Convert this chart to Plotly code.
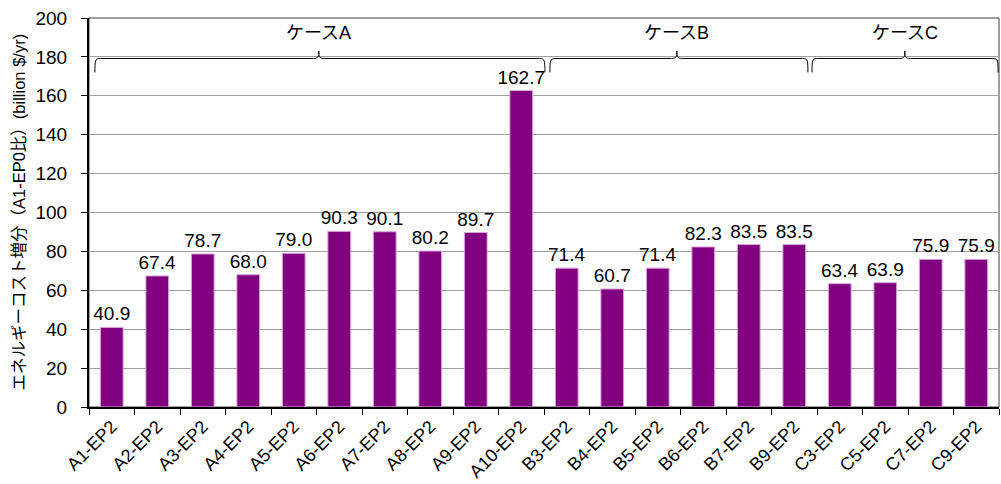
import plotly.graph_objects as go

# Scenario cases and their incremental energy cost vs A1-EP0
categories = ["A1-EP2", "A2-EP2", "A3-EP2", "A4-EP2", "A5-EP2", "A6-EP2", "A7-EP2",
              "A8-EP2", "A9-EP2", "A10-EP2", "B3-EP2", "B4-EP2", "B5-EP2", "B6-EP2",
              "B7-EP2", "B9-EP2", "C3-EP2", "C5-EP2", "C7-EP2", "C9-EP2"]
values = [40.9, 67.4, 78.7, 68.0, 79.0, 90.3, 90.1, 80.2, 89.7, 162.7,
          71.4, 60.7, 71.4, 82.3, 83.5, 83.5, 63.4, 63.9, 75.9, 75.9]

# Case group labels and brace spans (category index coordinates)
group_labels = ["ケースA", "ケースB", "ケースC"]
group_spans = [(-0.37, 9.52, 4.55), (9.63, 15.3, 12.42), (15.39, 19.48, 17.43)]

y_ticks = [0, 20, 40, 60, 80, 100, 120, 140, 160, 180, 200]

FONT = "Arial, Liberation Sans, Noto Sans CJK JP, sans-serif"
PURPLE = "#800080"
MARGIN_L, MARGIN_R = 89, 2
WIDTH = 1001

fig = go.Figure(go.Bar(
    x=categories,
    y=values,
    marker=dict(color=PURPLE, line=dict(color="#d9a6d9", width=1)),
    texttemplate="%{y:.1f}",
    textposition="outside",
    constraintext="none",
    textfont=dict(size=19, color="#000000", family=FONT),
    cliponaxis=False,
))


def brace_path(x0, x1, xm, y_bar=179.2, y_end=172.0, y_tip=183.0):
    c = 0.12
    d = 1.2
    return (f"M {x0},{y_end} C {x0},{y_bar - d} {x0},{y_bar} {x0 + c},{y_bar} "
            f"L {xm - c},{y_bar} C {xm},{y_bar} {xm},{y_bar + d} {xm},{y_tip} "
            f"C {xm},{y_bar + d} {xm},{y_bar} {xm + c},{y_bar} "
            f"L {x1 - c},{y_bar} C {x1},{y_bar} {x1},{y_bar - d} {x1},{y_end}")


shapes = []
annotations = []
for label, (x0, x1, xm) in zip(group_labels, group_spans):
    shapes.append(dict(type="path", xref="x", yref="y", path=brace_path(x0, x1, xm),
                       line=dict(color="#000000", width=1)))
    annotations.append(dict(x=xm, y=192.5, xref="x", yref="y", text=label, showarrow=False,
                            font=dict(size=18, color="#000000", family=FONT),
                            xanchor="center", yanchor="middle"))

# Plot frame (top and right edges)
shapes.append(dict(type="rect", xref="paper", yref="paper", x0=0, x1=1, y0=0, y1=1,
                   line=dict(color="#404040", width=1), layer="below"))

# Vertical axis title, centred 18 px from the left edge of the figure
annotations.append(dict(x=(18 - MARGIN_L) / (WIDTH - MARGIN_L - MARGIN_R), y=0.5,
                        xref="paper", yref="paper", xanchor="center",
                        yanchor="middle", showarrow=False, textangle=-90,
                        text="エネルギーコスト増分（A1-EP0比）(billion $/yr)",
                        font=dict(size=16.5, family=FONT, color="#000000")))

fig.update_layout(
    width=WIDTH, height=484,
    margin=dict(l=MARGIN_L, r=MARGIN_R, t=18, b=75),
    paper_bgcolor="#ffffff", plot_bgcolor="#ffffff",
    bargap=0.5,
    showlegend=False,
    font=dict(family=FONT, color="#000000"),
    shapes=shapes,
    annotations=annotations,
    xaxis=dict(
        type="category",
        tickson="boundaries",
        ticks="outside", ticklen=6, tickcolor="#000000",
        showline=True, linecolor="#000000", linewidth=2,
        showgrid=False,
        tickangle=-45,
        tickfont=dict(size=18, family=FONT, color="#000000"),
        range=[-0.5, len(categories) - 0.5],
    ),
    yaxis=dict(
        range=[0, 200],
        tickvals=y_ticks,
        ticks="outside", ticklen=6, tickcolor="#000000",
        showline=True, linecolor="#000000", linewidth=2,
        showgrid=True, gridcolor="#a0a0a0", gridwidth=1,
        zeroline=False,
        ticklabelstandoff=10,
        tickfont=dict(size=19, family=FONT, color="#000000"),
    ),
)

fig.write_html("out.html")
